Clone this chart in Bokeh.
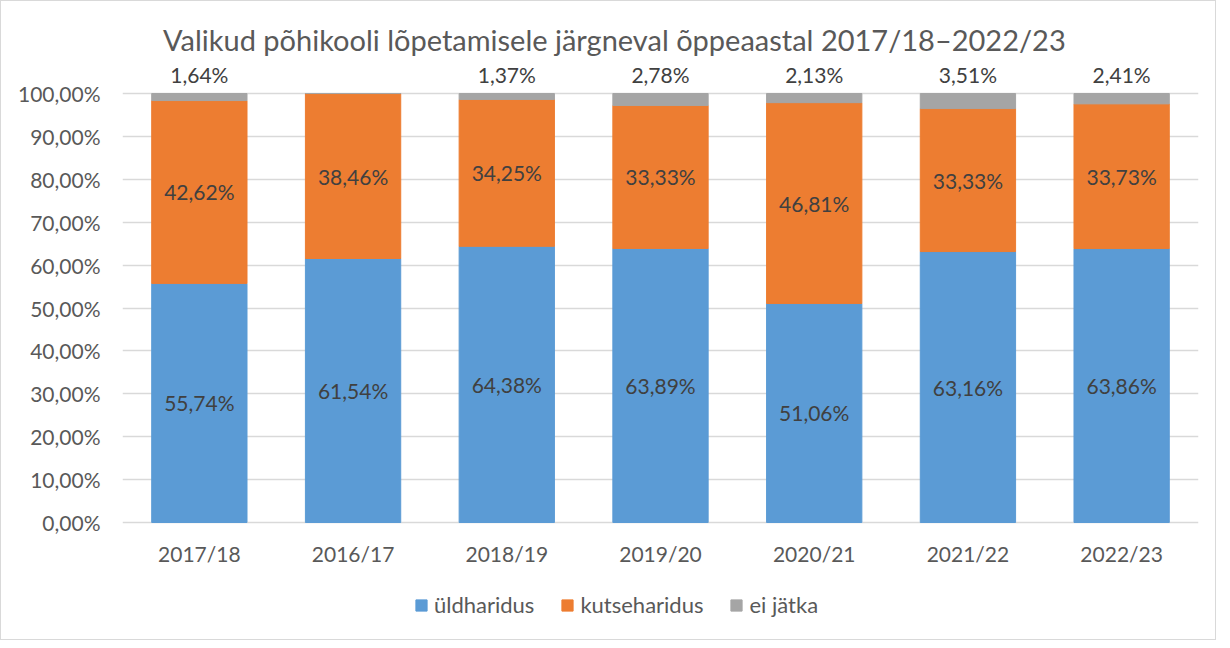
from bokeh.plotting import figure
from bokeh.models import ColumnDataSource, FixedTicker, LabelSet, Label, Legend, LegendItem, FactorRange
from bokeh.core.properties import value
from bokeh.embed import file_html
from bokeh.resources import INLINE

years = ["2017/18", "2016/17", "2018/19", "2019/20", "2020/21", "2021/22", "2022/23"]
uldharidus = [55.74, 61.54, 64.38, 63.89, 51.06, 63.16, 63.86]
kutseharidus = [42.62, 38.46, 34.25, 33.33, 46.81, 33.33, 33.73]
ei_jatka = [1.64, 0.0, 1.37, 2.78, 2.13, 3.51, 2.41]
y_ticks = [0, 10, 20, 30, 40, 50, 60, 70, 80, 90, 100]
y_tick_labels = ["0,00%", "10,00%", "20,00%", "30,00%", "40,00%", "50,00%",
                 "60,00%", "70,00%", "80,00%", "90,00%", "100,00%"]
series_names = ["üldharidus", "kutseharidus", "ei jätka"]
title_text = "Valikud põhikooli lõpetamisele järgneval õppeaastal 2017/18–2022/23"

FONT = "Lato"
colors = ["#5B9BD5", "#ED7D31", "#A5A5A5"]

def fmt(v):
    return ("%.2f" % v).replace(".", ",") + "%"

b1 = uldharidus
b2 = [a + b for a, b in zip(uldharidus, kutseharidus)]
b3 = [a + b for a, b in zip(b2, ei_jatka)]

src = ColumnDataSource(dict(
    x=years,
    u_top=b1, k_bot=b1, k_top=b2, e_bot=b2, e_top=b3,
    u_mid=[v / 2 for v in uldharidus],
    k_mid=[a + b / 2 for a, b in zip(b1, kutseharidus)],
    u_lab=[fmt(v) for v in uldharidus],
    k_lab=[fmt(v) for v in kutseharidus],
    cat_y=[-7.2] * len(years),
))
e_idx = [i for i, v in enumerate(ei_jatka) if v > 0]
src_e = ColumnDataSource(dict(
    x=[years[i] for i in e_idx],
    top=[b3[i] for i in e_idx],
    e_lab=[fmt(ei_jatka[i]) for i in e_idx],
))

p = figure(x_range=FactorRange(*years, range_padding=0), y_range=(-27.74, 121.45),
           width=1216, height=640, output_backend="svg", toolbar_location=None,
           min_border_left=121, min_border_right=19, min_border_top=0, min_border_bottom=0)
p.styles = {"border": "1px solid #D9D9D9"}
p.outline_line_color = None

w = 0.62
r1 = p.vbar(x="x", bottom=0, top="u_top", width=w, color=colors[0], source=src)
r2 = p.vbar(x="x", bottom="k_bot", top="k_top", width=w, color=colors[1], source=src)
r3 = p.vbar(x="x", bottom="e_bot", top="e_top", width=w, color=colors[2], source=src)

lab_kw = dict(text_font=value(FONT), text_font_size="21px", text_color="#404040",
              text_align="center", text_baseline="middle")
p.add_layout(LabelSet(x="x", y="u_mid", text="u_lab", source=src, **lab_kw))
p.add_layout(LabelSet(x="x", y="k_mid", text="k_lab", source=src, **lab_kw))
p.add_layout(LabelSet(x="x", y="top", text="e_lab", source=src_e, y_offset=19, **lab_kw))
p.add_layout(LabelSet(x="x", y="cat_y", text="x", source=src,
                      text_font=value(FONT), text_font_size="21px", text_color="#595959",
                      text_align="center", text_baseline="middle"))

p.add_layout(Label(x=3.2, y=112.6, text=title_text, text_font=FONT, text_font_size="29px",
                   text_color="#595959", text_align="center", text_baseline="middle"))

p.xaxis.visible = False
p.yaxis.ticker = FixedTicker(ticks=y_ticks)
p.yaxis.major_label_overrides = {t: l for t, l in zip(y_ticks, y_tick_labels)}
p.yaxis.axis_line_color = None
p.yaxis.major_tick_line_color = None
p.yaxis.minor_tick_line_color = None
p.yaxis.major_label_text_font = FONT
p.yaxis.major_label_text_font_size = "21px"
p.yaxis.major_label_text_color = "#595959"
p.yaxis.major_label_standoff = 16
p.xgrid.grid_line_color = None
p.ygrid.grid_line_color = "#D9D9D9"
p.ygrid.grid_line_width = 1.5

legend = Legend(items=[LegendItem(label=n, renderers=[r]) for n, r in zip(series_names, [r1, r2, r3])],
                orientation="horizontal", location=(292, 23),
                glyph_width=14, glyph_height=14, label_standoff=6, spacing=26, label_height=20,
                padding=0, margin=0, border_line_color=None, background_fill_alpha=0,
                label_text_font=FONT, label_text_font_size="22px", label_text_color="#595959")
p.add_layout(legend, "center")

open("out.html", "w").write(file_html(p, INLINE))
